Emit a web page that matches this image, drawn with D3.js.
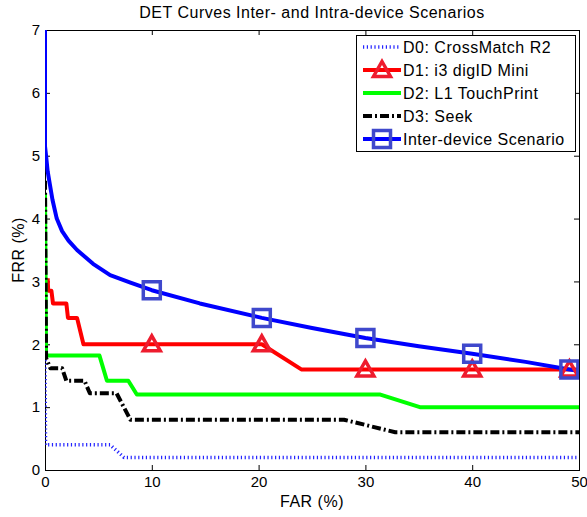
<!DOCTYPE html>
<html>
<head>
<meta charset="utf-8">
<script src="https://cdn.jsdelivr.net/npm/d3@7"></script>
<style>
  body { margin: 0; background: #fff; }
  text { font-family: "Liberation Sans", Arial, Helvetica, sans-serif; fill: #000; }
</style>
</head>
<body>
<div id="chart"></div>
<script>
// data: [FAR %, FRR %]
const d0 = [[0, 1.75], [0.05, 0.4], [6.1, 0.4], [7.4, 0.2], [50, 0.2]]
const d1 = [[0.25, 3.05], [0.3, 2.85], [0.6, 2.85], [0.75, 2.65], [2.0, 2.65], [2.15, 2.42], [3.0, 2.42], [3.6, 2.0], [20.3, 2.0], [24, 1.6], [50, 1.6]]
const d2 = [[0, 4.4], [0.1, 1.82], [5.1, 1.82], [5.8, 1.42], [7.8, 1.42], [8.6, 1.2], [31.4, 1.2], [35.1, 1.0], [50, 1.0]]
const d3s = [[0, 4.6], [0.1, 1.78], [0.5, 1.62], [1.6, 1.62], [2.0, 1.42], [3.7, 1.42], [4.2, 1.22], [6.7, 1.22], [8.0, 0.8], [28, 0.8], [32.8, 0.6], [50, 0.6]]
const inter = [[0, 7.5], [0, 5.15], [0.1, 5.0], [0.25, 4.75], [0.45, 4.55], [0.7, 4.3], [1.1, 4.0], [1.6, 3.8], [2.2, 3.65], [3.0, 3.5], [4.5, 3.28], [6.1, 3.1], [8, 2.98], [10, 2.86], [14.5, 2.65], [20.3, 2.42], [25, 2.26], [30, 2.1], [35, 1.97], [40, 1.85], [45, 1.72], [49.1, 1.6], [50, 1.58]]
const d1Marks = [[10, 2.0], [20.3, 2.0], [30, 1.6], [40, 1.6], [49.1, 1.6]]
const interMarks = [[10, 2.86], [20.3, 2.42], [30, 2.1], [40, 1.85], [49.1, 1.6]]

const xTicks = [0, 10, 20, 30, 40, 50]
const yTicks = [0, 1, 2, 3, 4, 5, 6, 7]
const legendNames = ['D0: CrossMatch R2', 'D1: i3 digID Mini', 'D2: L1 TouchPrint', 'D3: Seek', 'Inter-device Scenario']

const width = 587
const height = 517
const pLeft = 45, pRight = 579, pTop = 30, pBottom = 470

let svg = d3.select('#chart').append('svg')
    .attr('width', width)
    .attr('height', height)

const x = d3.scaleLinear().domain([0, 50]).range([pLeft, pRight])
const y = d3.scaleLinear().domain([0, 7]).range([pBottom, pTop])

svg.append('defs').append('clipPath').attr('id', 'plotclip')
    .append('rect')
    .attr('x', pLeft).attr('y', pTop)
    .attr('width', pRight - pLeft).attr('height', pBottom - pTop)

// axes, ticks inward on all four sides
svg.append('g')
    .attr('transform', `translate(0,${pBottom})`)
    .call(d3.axisBottom(x).tickValues(xTicks).tickFormat(d3.format('d')).tickSize(-5).tickSizeOuter(0).tickPadding(6))
    .call(g => g.select('.domain').remove())
    .selectAll('text').attr('font-size', 15)

svg.append('g')
    .attr('transform', `translate(${pLeft},0)`)
    .call(d3.axisLeft(y).tickValues(yTicks).tickFormat(d3.format('d')).tickSize(-5).tickSizeOuter(0).tickPadding(5))
    .call(g => g.select('.domain').remove())
    .selectAll('text').attr('font-size', 15)

svg.append('g')
    .attr('transform', `translate(0,${pTop})`)
    .call(d3.axisTop(x).tickValues(xTicks).tickSize(-5).tickSizeOuter(0).tickFormat(''))
    .call(g => g.select('.domain').remove())

svg.append('g')
    .attr('transform', `translate(${pRight},0)`)
    .call(d3.axisRight(y).tickValues(yTicks).tickSize(-5).tickSizeOuter(0).tickFormat(''))
    .call(g => g.select('.domain').remove())

svg.selectAll('.tick line').attr('stroke', '#000')
svg.selectAll('.tick text').attr('font-family', '"Liberation Sans", Arial, sans-serif')

svg.append('rect')
    .attr('x', pLeft + 0.5).attr('y', pTop + 0.5)
    .attr('width', pRight - pLeft).attr('height', pBottom - pTop)
    .attr('fill', 'none')
    .attr('stroke', '#000')

// curves
const line = d3.line().x(d => x(d[0])).y(d => y(d[1]))
let curves = svg.append('g').attr('clip-path', 'url(#plotclip)')

const series = [
    { data: d0, color: '#2424ff', w: 3.5, dash: '1.2 2.6' },
    { data: d1, color: '#ff0000', w: 4, dash: null },
    { data: d2, color: '#00ff00', w: 4, dash: null },
    { data: d3s, color: '#000000', w: 4, dash: '9 3 2 3' },
    { data: inter, color: '#0000ff', w: 4, dash: null }
]

series.forEach(s => {
    curves.append('path')
        .attr('d', line(s.data))
        .attr('fill', 'none')
        .attr('stroke', s.color)
        .attr('stroke-width', s.w)
        .attr('stroke-dasharray', s.dash)
        .attr('stroke-linejoin', 'round')
})

const triPath = 'M0,-8.5L8.5,6.5L-8.5,6.5Z'
const sqPath = 'M-8.5,-8.5H8.5V8.5H-8.5Z'

curves.selectAll('.tri')
    .data(d1Marks)
    .enter()
    .append('path')
    .attr('class', 'tri')
    .attr('d', triPath)
    .attr('transform', d => `translate(${x(d[0])},${y(d[1])})`)
    .attr('fill', 'none')
    .attr('stroke', '#ee1c2e')
    .attr('stroke-width', 3.5)

curves.selectAll('.sq')
    .data(interMarks)
    .enter()
    .append('path')
    .attr('class', 'sq')
    .attr('d', sqPath)
    .attr('transform', d => `translate(${x(d[0])},${y(d[1])})`)
    .attr('fill', 'none')
    .attr('stroke', '#3f48cc')
    .attr('stroke-width', 3.5)

// title and axis labels
svg.append('text')
    .attr('x', (pLeft + pRight) / 2).attr('y', 18)
    .attr('text-anchor', 'middle')
    .attr('font-size', 16).attr('letter-spacing', 0.5)
    .text('DET Curves Inter- and Intra-device Scenarios')

svg.append('text')
    .attr('x', (pLeft + pRight) / 2).attr('y', 507)
    .attr('text-anchor', 'middle')
    .attr('font-size', 16).attr('letter-spacing', 0.5)
    .text('FAR (%)')

svg.append('text')
    .attr('transform', `translate(24,${(pTop + pBottom) / 2}) rotate(-90)`)
    .attr('text-anchor', 'middle')
    .attr('font-size', 16).attr('letter-spacing', 0.5)
    .text('FRR (%)')

// legend
let legend = svg.append('g')
legend.append('rect')
    .attr('x', 356.5).attr('y', 35.5)
    .attr('width', 219).attr('height', 116)
    .attr('fill', '#fff')
    .attr('stroke', '#000')

legendNames.forEach((name, i) => {
    const ly = 47 + i * 23
    const s = series[i]
    legend.append('line')
        .attr('x1', 363).attr('x2', 401)
        .attr('y1', ly).attr('y2', ly)
        .attr('stroke', s.color)
        .attr('stroke-width', s.w)
        .attr('stroke-dasharray', s.dash)
    if (i === 1) {
        legend.append('path').attr('d', triPath)
            .attr('transform', `translate(382,${ly})`)
            .attr('fill', 'none').attr('stroke', '#ee1c2e').attr('stroke-width', 3.5)
    }
    if (i === 4) {
        legend.append('path').attr('d', sqPath)
            .attr('transform', `translate(382,${ly})`)
            .attr('fill', 'none').attr('stroke', '#3f48cc').attr('stroke-width', 3.5)
    }
    legend.append('text')
        .attr('x', 403).attr('y', ly)
        .attr('dy', '0.35em')
        .attr('font-size', 16).attr('letter-spacing', 0.5)
        .text(name)
})
</script>
</body>
</html>
